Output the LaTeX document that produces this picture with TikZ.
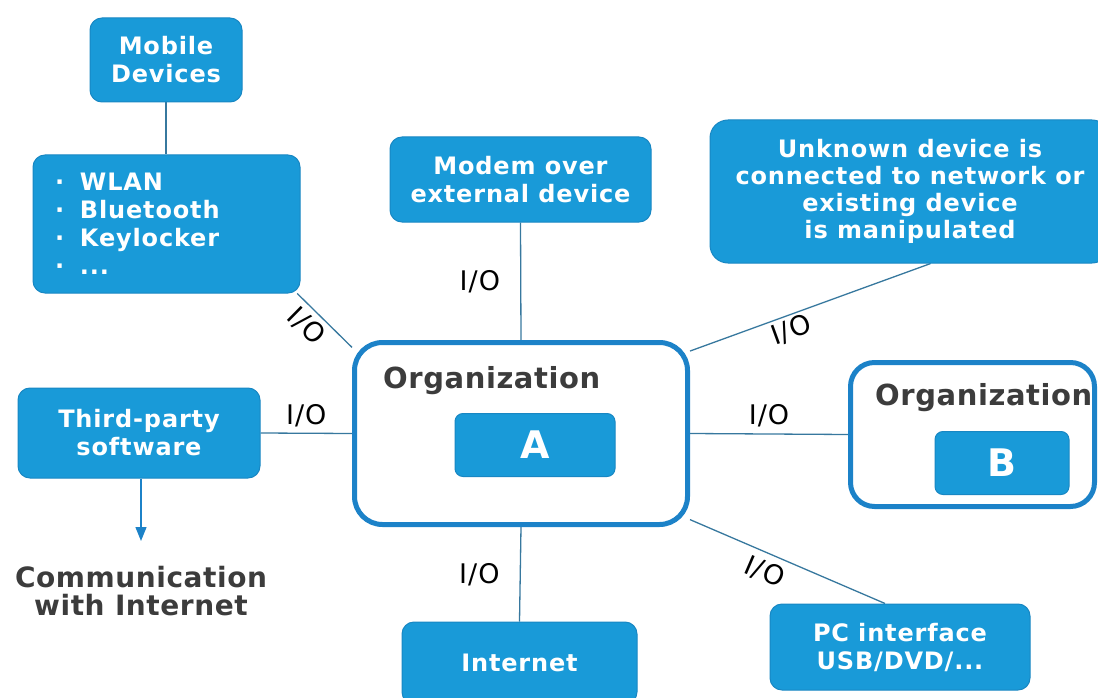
\documentclass[tikz,border=0pt]{standalone}
\usepackage{fontspec}
\setmainfont{DejaVu Sans}[LetterSpace=3.5]
\newfontfamily\iofont{DejaVu Sans}[LetterSpace=4]
\newfontfamily\headfont{DejaVu Sans}[LetterSpace=2]
\usetikzlibrary{arrows.meta,backgrounds,calc}
\definecolor{boxblue}{RGB}{25,154,216}
\definecolor{boxedge}{RGB}{24,135,195}
\definecolor{frameblue}{RGB}{28,130,200}
\definecolor{wireblue}{RGB}{55,120,158}
\definecolor{darktext}{RGB}{60,60,60}
\begin{document}
\begin{tikzpicture}[x=1pt,y=-1pt,
  bluebox/.style={draw=boxedge, line width=1pt, fill=boxblue, rounded corners=12pt,
    text=white, font=\bfseries\fontsize{24}{28}\selectfont, align=center, inner sep=0pt},
  orgframe/.style={draw=frameblue, line width=5pt, fill=white, rounded corners=28pt, inner sep=0pt},
  wire/.style={draw=wireblue, line width=1.3pt},
  iolabel/.style={font=\iofont\fontsize{27}{30}\selectfont, text=black, inner sep=2pt},
  heading/.style={font=\headfont\bfseries\fontsize{29}{34}\selectfont, text=darktext, inner sep=0pt},
]
\useasboundingbox (0,0) rectangle (1098,698);

% device boxes
\node[bluebox, minimum width=152pt, minimum height=84pt] (mobile) at (166,60) {Mobile\\Devices};
\node[bluebox, minimum width=267pt, minimum height=138pt, align=left, text width=223pt]
  (bul) at (166.5,224)
  {\makebox[25pt][l]{\textperiodcentered}WLAN\\
   \makebox[25pt][l]{\textperiodcentered}Bluetooth\\
   \makebox[25pt][l]{\textperiodcentered}Keylocker\\
   \makebox[25pt][l]{\textperiodcentered}...};
\node[bluebox, minimum width=261pt, minimum height=85pt] (modem) at (520.5,179.5) {Modem over\\external device};
\node[bluebox, minimum width=400pt, minimum height=143pt, rounded corners=18pt,
  font=\bfseries\fontsize{24}{27}\selectfont] (unknown) at (910,191.5)
  {Unknown device is\\connected to network or\\existing device\\is manipulated};
\node[bluebox, minimum width=242pt, minimum height=90pt] (third) at (139,433) {Third-party\\software};
\node[bluebox, minimum width=235pt, minimum height=82pt] (internet) at (519.5,663) {Internet};
\node[bluebox, minimum width=260pt, minimum height=86pt] (pc) at (900,647) {PC interface\\USB/DVD/...};

% organizations
\node[orgframe, minimum width=333pt, minimum height=182pt] (orgA) at (521,433.5) {};
\node[heading, anchor=base west] (orgAlabel) at (383,388) {Organization};
\node[bluebox, minimum width=160pt, minimum height=63pt, rounded corners=8pt,
  font=\bfseries\fontsize{38}{40}\selectfont] (boxA) at (535,445) {A};

\node[orgframe, minimum width=244pt, minimum height=144pt, rounded corners=24pt] (orgB) at (972.5,434.5) {};
\node[heading, anchor=base west] (orgBlabel) at (875,405) {Organization};
\node[bluebox, minimum width=134pt, minimum height=63pt, rounded corners=8pt,
  font=\bfseries\fontsize{38}{40}\selectfont] (boxB) at (1002,463) {B};

\node[heading, font=\headfont\bfseries\fontsize{28}{28}\selectfont, align=center] (comm) at (141,591)
  {Communication\\with Internet};
\coordinate (arrowend) at (141,541);

% connectors
\begin{scope}[on background layer]
  \draw[wire] (mobile.south) -- (bul.north -| mobile.south);
  \draw[wire] (bul.-28) -- node[iolabel, sloped, below=3pt, pos=0.38] {I/O} (orgA.153);
  \draw[wire] (modem.south) -- node[iolabel, left=18pt] {I/O} (orgA.north);
  \draw[wire] (orgA.26) -- node[iolabel, sloped, below=1pt, pos=0.4] {I/O} (unknown.-74);
  \draw[wire] (third.east) -- node[iolabel, above=4pt] {I/O} (orgA.west);
  \draw[wire] (orgA.east) -- node[iolabel, above=4pt] {I/O} (orgB.west);
  \draw[wire] (orgA.south) -- node[iolabel, left=18pt] {I/O} (internet.north);
  \draw[wire] (orgA.-27) -- node[iolabel, sloped, below=5pt, pos=0.42] {I/O} (pc.109);
  \draw[wire, draw=frameblue, -{Triangle[width=11pt,length=14pt]}] (third.south -| arrowend) -- (arrowend);
\end{scope}
\end{tikzpicture}
\end{document}
